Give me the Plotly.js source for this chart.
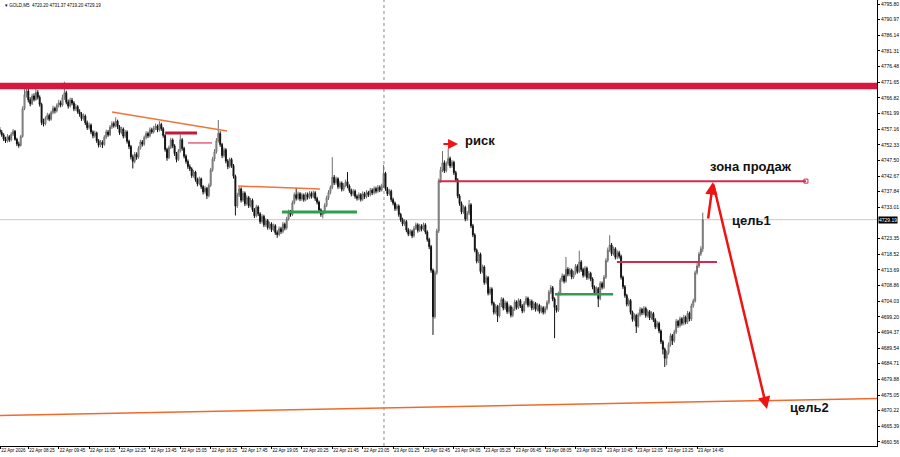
<!DOCTYPE html>
<html>
<head>
<meta charset="utf-8">
<script src="https://cdn.plot.ly/plotly-3.0.1.min.js"></script>
<style>html,body{margin:0;padding:0;background:#fff;}#chart{width:900px;height:457px;}</style>
</head>
<body>
<div id="chart"></div>
<script>
// GOLD, M5 candles (22 Apr 07:10 .. 23 Apr 15:00)
const opens = [
4757.0,4756.2,4755.4,4754.1,4753.5,4754.8,4753.9,4755.6,4756.5,4754.0,
4752.6,4752.1,4754.9,4763.5,4767.8,4768.9,4766.2,4765.0,4767.4,4766.3,
4768.5,4767.0,4764.8,4759.2,4758.8,4760.5,4761.4,4760.2,4762.3,4763.6,
4762.8,4764.5,4765.3,4764.6,4766.9,4768.4,4765.5,4764.3,4766.1,4765.2,
4763.4,4764.1,4762.5,4761.8,4760.4,4761.2,4759.1,4757.6,4758.4,4756.3,
4755.1,4756.0,4753.6,4752.2,4753.1,4752.4,4754.7,4756.3,4755.4,4757.8,
4758.9,4758.2,4759.6,4757.9,4756.1,4757.2,4755.0,4756.3,4753.4,4751.8,
4748.6,4747.2,4749.4,4748.5,4751.3,4753.2,4752.5,4754.6,4755.8,4755.1,
4757.0,4756.3,4757.5,4758.1,4756.9,4758.6,4757.3,4755.2,4750.9,4748.3,
4751.5,4753.8,4752.0,4749.6,4747.8,4750.4,4753.9,4751.2,4748.8,4747.2,
4745.6,4744.9,4742.8,4743.9,4741.6,4740.3,4741.8,4739.4,4737.8,4738.9,
4736.6,4739.8,4744.6,4747.9,4750.2,4753.6,4755.8,4752.4,4749.0,4750.8,
4747.3,4745.6,4747.8,4745.9,4742.6,4733.4,4736.8,4738.7,4735.2,4737.4,
4734.1,4736.0,4733.5,4735.2,4732.3,4730.4,4733.1,4731.0,4728.6,4730.2,
4727.6,4728.9,4726.8,4727.9,4726.1,4727.3,4725.2,4724.6,4726.4,4725.5,
4727.8,4726.6,4729.4,4731.6,4730.8,4734.4,4736.9,4735.8,4737.2,4735.6,
4736.8,4735.4,4737.0,4736.1,4737.3,4736.4,4737.5,4735.7,4734.6,4732.2,
4730.8,4731.4,4733.6,4735.9,4737.6,4739.1,4742.3,4740.6,4741.8,4739.4,
4740.5,4738.6,4739.8,4740.9,4739.6,4738.2,4737.1,4738.0,4736.4,4735.8,
4736.9,4735.5,4737.2,4736.3,4737.6,4736.9,4738.3,4737.5,4738.8,4738.0,
4739.2,4738.4,4739.6,4743.5,4738.8,4737.2,4738.0,4735.4,4734.3,4732.6,
4733.4,4730.8,4729.2,4727.9,4728.6,4726.0,4724.8,4725.6,4724.2,4726.5,
4727.6,4725.9,4727.2,4726.3,4727.6,4725.4,4723.1,4720.9,4713.6,4699.2,
4712.8,4725.7,4741.2,4744.6,4746.8,4744.3,4746.5,4748.1,4745.8,4746.9,
4743.7,4741.5,4736.5,4734.2,4731.6,4733.0,4729.4,4731.2,4733.8,4727.3,
4724.5,4719.8,4716.4,4718.5,4713.2,4714.6,4709.8,4711.3,4706.5,4707.8,
4703.4,4700.6,4702.4,4699.5,4702.8,4704.6,4701.9,4703.5,4700.8,4702.3,
4699.7,4701.6,4703.8,4702.1,4704.2,4702.6,4701.0,4703.4,4704.9,4702.8,
4704.0,4701.9,4703.3,4701.5,4702.7,4700.9,4702.0,4700.6,4701.8,4703.6,
4706.8,4708.2,4704.7,4702.1,4701.2,4706.3,4710.5,4711.8,4710.2,4713.9,
4712.4,4713.6,4711.5,4712.7,4714.8,4713.2,4716.1,4713.8,4712.0,4714.2,
4711.3,4712.6,4710.9,4708.4,4706.6,4707.9,4704.8,4709.5,4708.3,4711.4,
4716.6,4719.8,4721.4,4718.7,4720.2,4717.6,4719.0,4717.9,4711.4,4708.5,
4705.8,4703.1,4704.2,4700.6,4698.4,4699.6,4696.3,4699.8,4701.5,4700.4,
4701.8,4699.6,4700.8,4698.9,4700.2,4698.3,4696.1,4697.2,4694.8,4691.5,
4689.2,4686.4,4688.1,4690.6,4693.4,4691.8,4694.5,4697.8,4696.5,4698.6,
4697.2,4699.1,4697.6,4700.3,4698.5,4702.6,4704.1,4712.8,4714.9,4718.6,4720.20
];
const highs = [
4757.8,4756.9,4755.9,4754.8,4755.6,4755.3,4756.2,4757.2,4756.9,4754.5,
4753.3,4755.4,4764.2,4769.5,4771.3,4769.6,4767.0,4768.1,4768.2,4771.4,
4769.2,4767.6,4765.3,4760.4,4761.1,4762.2,4762.0,4762.9,4764.4,4764.1,
4765.1,4766.2,4766.0,4767.8,4771.8,4769.0,4766.3,4766.9,4766.8,4765.8,
4764.9,4764.6,4763.3,4762.4,4762.0,4761.7,4759.8,4759.2,4758.9,4756.8,
4756.7,4756.4,4754.1,4753.8,4753.7,4755.3,4757.0,4756.9,4758.4,4759.6,
4759.5,4760.8,4760.1,4758.4,4757.9,4757.7,4756.9,4756.8,4753.9,4752.3,
4749.3,4750.1,4750.0,4751.9,4753.9,4753.8,4755.2,4756.5,4756.4,4757.7,
4757.6,4758.2,4758.9,4758.6,4759.6,4759.1,4757.8,4755.6,4751.4,4752.1,
4754.5,4754.3,4752.5,4750.1,4751.0,4755.5,4754.4,4751.7,4749.4,4747.8,
4746.3,4745.4,4744.6,4744.3,4742.2,4742.5,4742.2,4739.9,4739.6,4739.3,
4740.4,4745.2,4748.6,4751.0,4754.4,4760.0,4756.5,4752.9,4751.5,4751.3,
4747.9,4748.4,4748.3,4746.4,4743.1,4737.5,4739.5,4739.2,4738.1,4737.9,
4736.7,4736.5,4735.9,4735.7,4732.8,4733.8,4733.6,4731.5,4730.9,4730.7,
4729.6,4729.4,4728.6,4728.4,4728.0,4727.8,4725.9,4727.1,4727.0,4728.5,
4728.3,4730.1,4732.3,4732.2,4735.1,4737.6,4739.0,4737.9,4737.7,4737.5,
4737.3,4737.7,4737.6,4738.0,4737.9,4738.2,4738.0,4736.3,4735.1,4732.7,
4732.1,4734.3,4736.6,4738.3,4739.8,4748.5,4743.0,4742.5,4742.3,4741.2,
4741.0,4740.5,4741.6,4743.9,4740.1,4738.8,4738.7,4738.5,4737.0,4737.6,
4737.4,4737.9,4737.8,4738.3,4738.1,4739.0,4738.9,4739.5,4739.4,4739.9,
4739.8,4740.3,4746.1,4744.0,4739.3,4738.7,4738.5,4736.0,4734.8,4734.1,
4733.9,4731.3,4729.8,4729.3,4729.1,4726.6,4726.3,4726.1,4727.2,4728.3,
4728.1,4727.9,4727.8,4728.3,4728.1,4725.9,4723.6,4721.4,4714.1,4713.5,
4726.4,4741.9,4745.5,4750.4,4747.5,4747.2,4751.2,4748.7,4747.6,4747.4,
4744.3,4742.0,4737.1,4734.8,4733.7,4733.5,4731.9,4735.3,4734.3,4727.9,
4725.0,4720.3,4719.2,4719.0,4715.3,4715.1,4712.0,4711.8,4708.5,4708.3,
4703.9,4703.1,4702.9,4703.5,4705.3,4705.1,4704.2,4704.0,4703.0,4702.8,
4702.3,4704.5,4704.3,4704.9,4704.7,4703.1,4704.1,4705.6,4705.4,4704.7,
4704.5,4704.0,4703.8,4703.4,4703.2,4702.7,4702.5,4702.5,4704.3,4707.5,
4709.0,4708.7,4705.2,4702.8,4707.0,4711.2,4712.6,4712.3,4717.7,4714.5,
4714.3,4714.1,4713.4,4715.5,4715.4,4719.6,4716.7,4714.4,4714.9,4714.7,
4713.3,4713.1,4711.4,4708.9,4708.6,4708.4,4710.2,4710.1,4712.1,4717.3,
4720.6,4724.4,4722.0,4720.9,4720.7,4719.7,4719.6,4718.4,4711.9,4709.0,
4706.3,4704.9,4704.7,4701.1,4700.3,4700.1,4700.5,4702.2,4702.0,4702.5,
4702.3,4701.5,4701.3,4700.9,4700.7,4698.8,4697.9,4697.7,4695.3,4692.0,
4689.7,4688.8,4691.3,4694.1,4693.9,4695.2,4698.5,4698.3,4699.3,4699.1,
4699.8,4699.6,4701.0,4700.8,4703.3,4704.8,4713.5,4715.8,4719.3,4721.0,4731.37
];
const lows = [
4755.6,4754.8,4753.5,4752.9,4753.0,4753.2,4753.4,4755.0,4753.6,4751.9,
4751.4,4751.8,4754.5,4763.0,4766.9,4765.4,4764.2,4764.6,4765.7,4765.9,
4766.3,4764.1,4758.4,4758.0,4758.3,4759.9,4759.6,4759.8,4761.7,4762.0,
4762.3,4763.8,4763.9,4764.1,4766.2,4764.8,4763.5,4763.8,4764.5,4762.7,
4762.8,4761.9,4761.0,4759.7,4759.8,4758.4,4756.9,4757.0,4755.6,4754.3,
4754.5,4752.9,4751.5,4751.6,4751.3,4752.0,4754.1,4754.8,4755.0,4757.2,
4757.6,4757.7,4757.2,4755.4,4755.6,4754.3,4754.4,4752.7,4751.0,4747.8,
4745.0,4746.6,4747.7,4748.0,4750.8,4751.8,4752.0,4754.0,4754.4,4754.6,
4755.7,4755.8,4756.9,4756.2,4756.4,4756.6,4754.5,4750.2,4747.4,4747.9,
4751.0,4751.3,4748.9,4746.9,4747.3,4749.9,4750.5,4748.1,4746.5,4744.9,
4744.2,4742.1,4742.2,4740.9,4739.5,4739.8,4738.7,4737.0,4737.2,4735.6,
4736.1,4739.3,4744.0,4747.2,4749.6,4753.0,4751.7,4748.2,4748.4,4746.6,
4744.8,4745.1,4745.2,4741.9,4730.5,4732.8,4736.2,4734.5,4734.7,4733.4,
4733.6,4732.8,4733.0,4731.6,4729.7,4729.9,4730.3,4727.9,4728.0,4726.9,
4727.0,4726.1,4726.2,4725.4,4725.6,4724.5,4723.6,4724.1,4724.8,4725.0,
4725.9,4726.1,4728.9,4730.1,4730.3,4733.9,4735.1,4735.2,4734.9,4735.0,
4734.7,4734.9,4735.4,4735.6,4735.7,4735.9,4735.0,4733.9,4731.5,4730.1,
4729.6,4730.9,4733.1,4735.3,4737.0,4738.6,4739.9,4740.0,4738.7,4738.8,
4737.9,4738.0,4739.2,4738.9,4737.5,4736.4,4736.5,4735.7,4735.1,4735.2,
4734.8,4735.0,4735.6,4735.8,4736.2,4736.4,4736.8,4737.0,4737.3,4737.5,
4737.7,4737.9,4739.0,4738.1,4736.5,4736.6,4734.7,4733.6,4731.9,4732.0,
4730.1,4728.5,4727.2,4727.3,4725.3,4724.1,4724.2,4723.5,4723.7,4726.0,
4725.2,4725.4,4725.6,4725.8,4724.7,4722.4,4720.1,4712.8,4693.6,4698.6,
4712.2,4725.1,4740.6,4743.9,4743.6,4743.8,4745.9,4745.1,4745.2,4743.0,
4740.8,4735.8,4733.5,4730.9,4731.0,4728.7,4728.8,4730.6,4726.6,4723.8,
4719.1,4715.7,4715.8,4712.5,4712.6,4709.1,4709.2,4705.8,4705.9,4702.7,
4699.9,4700.0,4697.6,4699.0,4702.2,4701.2,4701.3,4700.1,4700.2,4699.0,
4699.1,4701.0,4701.4,4701.6,4701.9,4700.3,4700.5,4702.9,4702.1,4702.2,
4701.2,4701.3,4700.8,4700.9,4700.2,4700.3,4699.9,4700.0,4701.2,4703.0,
4706.2,4704.0,4692.6,4700.5,4700.7,4705.8,4709.9,4709.5,4709.7,4711.7,
4711.8,4710.8,4710.9,4712.2,4712.5,4712.7,4713.1,4711.3,4711.5,4710.6,
4710.7,4710.2,4707.7,4705.9,4706.0,4702.2,4704.3,4707.6,4707.8,4710.9,
4716.0,4719.2,4718.0,4718.1,4716.9,4717.0,4717.2,4710.7,4707.8,4705.1,
4702.4,4702.5,4699.9,4697.7,4697.8,4694.2,4695.8,4699.2,4699.7,4699.8,
4698.9,4699.0,4698.2,4698.3,4697.6,4695.4,4695.5,4694.1,4690.8,4687.6,
4683.7,4684.3,4687.5,4690.0,4690.5,4691.2,4693.9,4695.8,4695.9,4696.5,
4696.6,4696.9,4697.0,4697.8,4697.9,4702.0,4703.6,4712.2,4714.3,4718.0,4719.20
];
const closes = [
4756.2,4755.4,4754.1,4753.5,4754.8,4753.9,4755.6,4756.5,4754.0,4752.6,
4752.1,4754.9,4763.5,4767.8,4768.9,4766.2,4765.0,4767.4,4766.3,4768.5,
4767.0,4764.8,4759.2,4758.8,4760.5,4761.4,4760.2,4762.3,4763.6,4762.8,
4764.5,4765.3,4764.6,4766.9,4768.4,4765.5,4764.3,4766.1,4765.2,4763.4,
4764.1,4762.5,4761.8,4760.4,4761.2,4759.1,4757.6,4758.4,4756.3,4755.1,
4756.0,4753.6,4752.2,4753.1,4752.4,4754.7,4756.3,4755.4,4757.8,4758.9,
4758.2,4759.6,4757.9,4756.1,4757.2,4755.0,4756.3,4753.4,4751.8,4748.6,
4747.2,4749.4,4748.5,4751.3,4753.2,4752.5,4754.6,4755.8,4755.1,4757.0,
4756.3,4757.5,4758.1,4756.9,4758.6,4757.3,4755.2,4750.9,4748.3,4751.5,
4753.8,4752.0,4749.6,4747.8,4750.4,4753.9,4751.2,4748.8,4747.2,4745.6,
4744.9,4742.8,4743.9,4741.6,4740.3,4741.8,4739.4,4737.8,4738.9,4736.6,
4739.8,4744.6,4747.9,4750.2,4753.6,4755.8,4752.4,4749.0,4750.8,4747.3,
4745.6,4747.8,4745.9,4742.6,4733.4,4736.8,4738.7,4735.2,4737.4,4734.1,
4736.0,4733.5,4735.2,4732.3,4730.4,4733.1,4731.0,4728.6,4730.2,4727.6,
4728.9,4726.8,4727.9,4726.1,4727.3,4725.2,4724.6,4726.4,4725.5,4727.8,
4726.6,4729.4,4731.6,4730.8,4734.4,4736.9,4735.8,4737.2,4735.6,4736.8,
4735.4,4737.0,4736.1,4737.3,4736.4,4737.5,4735.7,4734.6,4732.2,4730.8,
4731.4,4733.6,4735.9,4737.6,4739.1,4742.3,4740.6,4741.8,4739.4,4740.5,
4738.6,4739.8,4740.9,4739.6,4738.2,4737.1,4738.0,4736.4,4735.8,4736.9,
4735.5,4737.2,4736.3,4737.6,4736.9,4738.3,4737.5,4738.8,4738.0,4739.2,
4738.4,4739.6,4743.5,4738.8,4737.2,4738.0,4735.4,4734.3,4732.6,4733.4,
4730.8,4729.2,4727.9,4728.6,4726.0,4724.8,4725.6,4724.2,4726.5,4727.6,
4725.9,4727.2,4726.3,4727.6,4725.4,4723.1,4720.9,4713.6,4699.2,4712.8,
4725.7,4741.2,4744.6,4746.8,4744.3,4746.5,4748.1,4745.8,4746.9,4743.7,
4741.5,4736.5,4734.2,4731.6,4733.0,4729.4,4731.2,4733.8,4727.3,4724.5,
4719.8,4716.4,4718.5,4713.2,4714.6,4709.8,4711.3,4706.5,4707.8,4703.4,
4700.6,4702.4,4699.5,4702.8,4704.6,4701.9,4703.5,4700.8,4702.3,4699.7,
4701.6,4703.8,4702.1,4704.2,4702.6,4701.0,4703.4,4704.9,4702.8,4704.0,
4701.9,4703.3,4701.5,4702.7,4700.9,4702.0,4700.6,4701.8,4703.6,4706.8,
4708.2,4704.7,4702.1,4701.2,4706.3,4710.5,4711.8,4710.2,4713.9,4712.4,
4713.6,4711.5,4712.7,4714.8,4713.2,4716.1,4713.8,4712.0,4714.2,4711.3,
4712.6,4710.9,4708.4,4706.6,4707.9,4704.8,4709.5,4708.3,4711.4,4716.6,
4719.8,4721.4,4718.7,4720.2,4717.6,4719.0,4717.9,4711.4,4708.5,4705.8,
4703.1,4704.2,4700.6,4698.4,4699.6,4696.3,4699.8,4701.5,4700.4,4701.8,
4699.6,4700.8,4698.9,4700.2,4698.3,4696.1,4697.2,4694.8,4691.5,4689.2,
4686.4,4688.1,4690.6,4693.4,4691.8,4694.5,4697.8,4696.5,4698.6,4697.2,
4699.1,4697.6,4700.3,4698.5,4702.6,4704.1,4712.8,4714.9,4718.6,4720.2,4729.19
];

// time-axis labels (every 16 bars) and their bar positions
const timeLabels = ['22 Apr 2026','22 Apr 08:25','22 Apr 09:45','22 Apr 11:05','22 Apr 12:25','22 Apr 13:45',
  '22 Apr 15:05','22 Apr 16:25','22 Apr 17:45','22 Apr 19:05','22 Apr 20:25','22 Apr 21:45','22 Apr 23:05',
  '23 Apr 01:25','23 Apr 02:45','23 Apr 04:05','23 Apr 05:25','23 Apr 06:45','23 Apr 08:05','23 Apr 09:25',
  '23 Apr 10:45','23 Apr 12:05','23 Apr 13:25','23 Apr 14:45'];
const timeLabelBars = [1.2,16,32,48,64,80,96,112,128,144,160,176,192,208,224,240,256,272,288,304,320,336,352,368];

// price-axis ticks
const priceTicks = [4795.80,4790.97,4786.14,4781.31,4776.48,4771.65,4766.82,4761.99,4757.16,4752.33,
  4747.50,4742.67,4737.84,4733.01,4723.35,4718.52,4713.69,4708.86,4704.03,4699.20,4694.37,
  4689.54,4684.71,4679.88,4675.05,4670.22,4665.39,4660.56];

// drawn levels
const resistanceBand = [4769.5, 4771.5];
const sellZone = 4741.1;
const lastPrice = 4729.19;
const lastBar = {o: 4720.20, h: 4731.37, l: 4719.20, c: 4729.19};

const bars = opens.map((_, k) => k + 1);

const candle = {
  type: 'candlestick',
  x: bars, open: opens, high: highs, low: lows, close: closes,
  increasing: {line: {color: '#6e6e6e', width: 1}, fillcolor: '#c8c8c8'},
  decreasing: {line: {color: '#111111', width: 1}, fillcolor: '#111111'},
  whiskerwidth: 0,
  hoverinfo: 'skip',
  showlegend: false
};

const marks = {
  type: 'scatter', mode: 'markers',
  x: [425.3], y: [sellZone],
  marker: {symbol: 'square-open', size: 4, color: '#d6294f', line: {width: 1}},
  hoverinfo: 'skip', showlegend: false
};

const crimson = '#d6294f';
const orange = '#f2743a';
const green = '#2f9e52';

const shapes = [
  {type: 'line', xref: 'paper', x0: 0, x1: 1, y0: lastPrice, y1: lastPrice, line: {color: '#c8c8c8', width: 1}, layer: 'below'},
  {type: 'line', x0: 203.2, x1: 203.2, yref: 'paper', y0: 0, y1: 1, line: {color: '#8a8a8a', width: 1, dash: 'dot'}, layer: 'below'},
  {type: 'rect', xref: 'paper', x0: 0, x1: 1, y0: resistanceBand[0], y1: resistanceBand[1], fillcolor: '#d8173f', line: {width: 0}},
  {type: 'line', x0: 60.1, y0: 4762.45, x1: 120.6, y1: 4756.6, line: {color: orange, width: 1.5}},
  {type: 'line', x0: 88.0, y0: 4755.97, x1: 104.8, y1: 4755.97, line: {color: '#c2183c', width: 3}},
  {type: 'line', x0: 100.1, y0: 4752.9, x1: 112.7, y1: 4752.9, line: {color: '#e2607a', width: 1.5}},
  {type: 'line', x0: 126.4, y0: 4739.6, x1: 169.5, y1: 4738.7, line: {color: orange, width: 1.5}},
  {type: 'line', x0: 149.5, y0: 4731.6, x1: 189.0, y1: 4731.6, line: {color: green, width: 3}},
  {type: 'line', x0: 232.2, y0: sellZone, x1: 425.3, y1: sellZone, line: {color: crimson, width: 2}},
  {type: 'line', x0: 325.8, y0: 4716.1, x1: 378.5, y1: 4716.1, line: {color: crimson, width: 2}},
  {type: 'line', x0: 293.2, y0: 4706.2, x1: 323.8, y1: 4706.2, line: {color: green, width: 2.5}},
  {type: 'line', xref: 'paper', x0: 0, y0: 4668.7, x1: 1, y1: 4674.0, line: {color: '#f06a2c', width: 1.5}}
];

const txtFont = {family: 'Liberation Sans, Arial, sans-serif', size: 13, color: '#111'};
const annotations = [
  {x: 242.2, y: 4752.6, ax: 233.7, ay: 4752.6, axref: 'x', ayref: 'y', text: '', showarrow: true,
   arrowhead: 2, arrowsize: 1, arrowwidth: 2, arrowcolor: '#f01414', standoff: 0},
  {x: 244.8, y: 4753.8, text: '<b>риск</b>', showarrow: false, xanchor: 'left', yanchor: 'middle', font: txtFont},
  {x: 373.7, y: 4745.5, text: '<b>зона продаж</b>', showarrow: false, xanchor: 'left', yanchor: 'middle', font: txtFont},
  {x: 385.3, y: 4728.8, text: '<b>цель1</b>', showarrow: false, xanchor: 'left', yanchor: 'middle', font: txtFont},
  {x: 415.8, y: 4671.3, text: '<b>цель2</b>', showarrow: false, xanchor: 'left', yanchor: 'middle', font: txtFont},
  {x: 376.4, y: 4740.8, ax: 373.7, ay: 4729.1, axref: 'x', ayref: 'y', text: '', showarrow: true,
   arrowhead: 2, arrowsize: 1, arrowwidth: 2.5, arrowcolor: '#ee1414', standoff: 0},
  {x: 404.8, y: 4670.7, ax: 376.4, ay: 4740.5, axref: 'x', ayref: 'y', text: '', showarrow: true,
   arrowhead: 2, arrowsize: 1, arrowwidth: 2.5, arrowcolor: '#ee1414', standoff: 0},
  {xref: 'paper', x: 1, y: lastPrice, text: lastPrice.toFixed(2), showarrow: false, xanchor: 'left', yanchor: 'middle',
   bgcolor: '#000', borderpad: 0, font: {family: 'Liberation Sans, Arial, sans-serif', size: 5, color: '#fff'}, xshift: 1},
  {xref: 'paper', yref: 'paper', x: 0.003, y: 0.997, xanchor: 'left', yanchor: 'top', showarrow: false,
   text: '▾ GOLD,M5  ' + [lastBar.o, lastBar.h, lastBar.l, lastBar.c].map(v => v.toFixed(2)).join(' '),
   font: {family: 'Liberation Sans, Arial, sans-serif', size: 4.5, color: '#000'}}
];

const layout = {
  width: 900, height: 457,
  margin: {l: 0, r: 23, t: 0, b: 11, pad: 0},
  paper_bgcolor: '#fff', plot_bgcolor: '#fff',
  showlegend: false,
  xaxis: {
    type: 'linear', range: [1.1, 462.7], showgrid: false, zeroline: false,
    rangeslider: {visible: false},
    tickmode: 'array', tickvals: timeLabelBars, ticktext: timeLabels,
    tickangle: 0,
    ticks: 'outside', ticklen: 2, tickcolor: '#000', tickwidth: 1,
    ticklabelposition: 'outside right',
    tickfont: {family: 'Liberation Sans, Arial, sans-serif', size: 4.5, color: '#000'},
    showline: true, linecolor: '#000', linewidth: 1
  },
  yaxis: {
    side: 'right', range: [4659.3, 4797.04], showgrid: false, zeroline: false,
    tickmode: 'array', tickvals: priceTicks, ticktext: priceTicks.map(v => v.toFixed(2)),
    ticks: 'outside', ticklen: 2, tickcolor: '#000', tickwidth: 1,
    tickfont: {family: 'Liberation Sans, Arial, sans-serif', size: 5, color: '#000'},
    showline: true, linecolor: '#000', linewidth: 1
  },
  shapes: shapes,
  annotations: annotations
};

Plotly.newPlot('chart', [candle, marks], layout, {staticPlot: true, displayModeBar: false});
</script>
</body>
</html>
